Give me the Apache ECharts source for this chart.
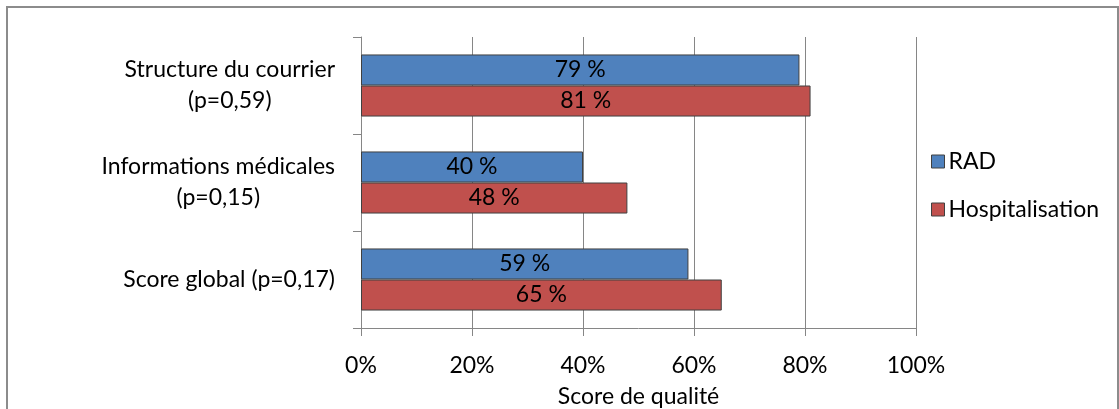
<!DOCTYPE html>
<html>
<head>
<meta charset="utf-8">
<script src="https://cdn.jsdelivr.net/npm/echarts@6/dist/echarts.min.js"></script>
<style>
  html, body { margin: 0; padding: 0; background: #fff; }
  #chart { width: 1119px; height: 409px; }
</style>
</head>
<body>
<div id="chart"></div>
<script>
// catégories (de haut en bas)
const categories = ["Structure du courrier\n(p=0,59)", "Informations médicales\n(p=0,15)", "Score global (p=0,17)"];
const seriesNames = ["RAD", "Hospitalisation"];
const radValues = [79, 40, 59];
const hospValues = [81, 48, 65];
const xTicks = [0, 20, 40, 60, 80, 100];

const font = "Lato";
const fs = 23;
const chart = echarts.init(document.getElementById("chart"));

// lignes centrées entre elles, bloc aligné à droite
const labelRich = {
  c: { align: "center", fontFamily: font, fontSize: fs, color: "#000", lineHeight: 31 }
};

const option = {
  animation: false,
  textStyle: { fontFamily: font },
  color: ["#4f81bd", "#c0504d"],
  grid: { left: 361, right: 203, top: 37, bottom: 81, outerBoundsMode: "none", containLabel: false },
  graphic: [{
    type: "rect",
    shape: { x: 7, y: 7, width: 1111, height: 430 },
    style: { fill: "none", stroke: "#8c8c8c", lineWidth: 2 },
    silent: true
  }],
  legend: {
    orient: "vertical",
    left: 926,
    top: 145,
    icon: "rect",
    itemWidth: 13,
    itemHeight: 13,
    itemGap: 25,
    data: seriesNames,
    textStyle: { fontFamily: font, fontSize: fs, color: "#000", padding: [0, 0, 0, -1] },
    itemStyle: { borderColor: "#404040", borderWidth: 1 }
  },
  xAxis: {
    type: "value",
    min: xTicks[0],
    max: xTicks[xTicks.length - 1],
    interval: 20,
    name: "Score de qualité",
    nameLocation: "middle",
    nameGap: 57,
    nameTextStyle: { fontFamily: font, fontSize: fs, color: "#000" },
    axisLine: { show: true, lineStyle: { color: "#868686", width: 1 } },
    axisTick: { show: true, length: 8, lineStyle: { color: "#868686" } },
    axisLabel: { margin: 26, fontFamily: font, fontSize: fs, color: "#000", formatter: v => v + "%" },
    splitLine: { show: true, lineStyle: { color: "#868686", width: 1 } }
  },
  yAxis: {
    type: "category",
    inverse: true,
    data: categories,
    axisLine: { show: true, lineStyle: { color: "#868686", width: 1 } },
    axisTick: { show: true, length: 8, lineStyle: { color: "#868686" } },
    axisLabel: {
      margin: 26,
      align: "right",
      fontFamily: font,
      fontSize: fs,
      color: "#000",
      lineHeight: 31,
      formatter: v => v.split("\n").map(l => "{c|" + l + "}").join("\n"),
      rich: labelRich
    }
  },
  series: [
    {
      name: seriesNames[0],
      type: "bar",
      data: radValues,
      barGap: "0%",
      barCategoryGap: "36%",
      itemStyle: { borderColor: "#404040", borderWidth: 1 },
      label: { show: true, position: "inside", fontFamily: font, fontSize: fs, color: "#000", formatter: p => p.value + " %" }
    },
    {
      name: seriesNames[1],
      type: "bar",
      data: hospValues,
      barGap: "0%",
      barCategoryGap: "36%",
      itemStyle: { borderColor: "#404040", borderWidth: 1 },
      label: { show: true, position: "inside", fontFamily: font, fontSize: fs, color: "#000", formatter: p => p.value + " %" }
    }
  ]
};

chart.setOption(option);
window.addEventListener("resize", () => chart.resize());
</script>
</body>
</html>
